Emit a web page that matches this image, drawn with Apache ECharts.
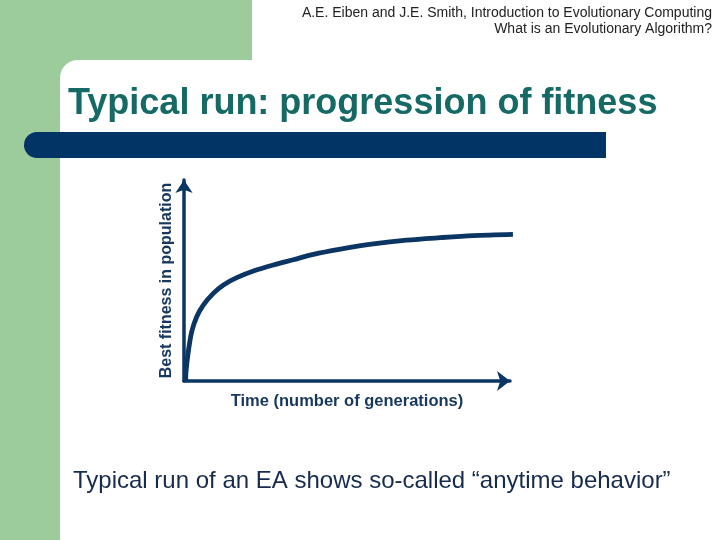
<!DOCTYPE html>
<html>
<head>
<meta charset="utf-8">
<script src="https://cdn.jsdelivr.net/npm/echarts@6/dist/echarts.min.js"></script>
<style>
html,body{margin:0;padding:0;background:#fff;}
#chart{width:720px;height:540px;}
</style>
</head>
<body>
<div id="chart"></div>
<script>
// Data (time in % of axis length, fitness in % of axis height)
const timeValues =    [0.52, 0.61, 1.32, 2.36, 3.90, 5.92, 8.99, 12.1, 16.2, 21.3, 27.4, 33.5, 39.7, 47.6, 58.1, 68.3, 78.5, 88.7, 100.9];
const fitnessValues = [0,    4.63, 14.6, 24.5, 32.0, 37.8, 43.6, 47.8, 51.4, 54.7, 57.7, 60.3, 63.0, 65.5, 68.2, 70.1, 71.3, 72.3, 72.9];
const titleText = 'Typical run: progression of fitness';
const headerLines = ['A.E. Eiben and J.E. Smith, Introduction to Evolutionary Computing', 'What is an Evolutionary Algorithm?'];
const xAxisName = 'Time (number of generations)';
const yAxisName = 'Best fitness in population';
const captionText = 'Typical run of an EA shows so-called \u201Canytime behavior\u201D';

const FONT = '"Liberation Sans", Arial, Helvetica, sans-serif';
const GREEN = '#9ccb9c';
const NAVY = '#0b3563';

const seriesData = timeValues.map((t, i) => [t, fitnessValues[i]]);

const chart = echarts.init(document.getElementById('chart'), null, {renderer: 'canvas'});
chart.setOption({
  backgroundColor: '#ffffff',
  animation: false,
  graphic: [
    {type: 'rect', z: -10, shape: {x: 0, y: 0, width: 252, height: 60}, style: {fill: GREEN}},
    {type: 'rect', z: -10, shape: {x: 0, y: 0, width: 60, height: 540}, style: {fill: GREEN}},
    {type: 'rect', z: -10, shape: {x: 0, y: 0, width: 90, height: 90}, style: {fill: GREEN}},
    {type: 'rect', z: -9, shape: {x: 60, y: 60, width: 660, height: 480, r: [18, 0, 0, 0]}, style: {fill: '#ffffff'}},
    {type: 'rect', z: -8, shape: {x: 24, y: 132, width: 582, height: 26, r: [13, 0, 0, 13]}, style: {fill: '#023466'}},
    {type: 'text', z: 5, x: 712, y: 13, style: {text: headerLines[0], font: '14px ' + FONT, fill: '#222222', align: 'right', verticalAlign: 'middle'}},
    {type: 'text', z: 5, x: 712, y: 29, style: {text: headerLines[1], font: '14px ' + FONT, fill: '#222222', align: 'right', verticalAlign: 'middle'}},
    {type: 'text', z: 5, x: 68, y: 104, style: {text: titleText, font: 'bold 36px ' + FONT, fill: '#166a66', align: 'left', verticalAlign: 'middle'}},
    {type: 'text', z: 5, x: 73, y: 481, style: {text: captionText, font: '24px ' + FONT, fill: '#172b4d', align: 'left', verticalAlign: 'middle'}}
  ],
  grid: {left: 184, right: 210, top: 180, bottom: 159, containLabel: false},
  xAxis: {
    type: 'value', min: 0, max: 100,
    name: xAxisName, nameLocation: 'middle', nameGap: 12,
    nameTextStyle: {fontFamily: FONT, fontWeight: 'bold', fontSize: 16.5, color: '#17375e', verticalAlign: 'top'},
    axisLine: {show: true, symbol: ['none', 'arrow'], symbolSize: [15, 13], lineStyle: {color: NAVY, width: 3.5}},
    axisTick: {show: false}, axisLabel: {show: false}, splitLine: {show: false}
  },
  yAxis: {
    type: 'value', min: 0, max: 100,
    name: yAxisName, nameLocation: 'middle', nameGap: 9, nameRotate: 90,
    nameTextStyle: {fontFamily: FONT, fontWeight: 'bold', fontSize: 16, color: '#17375e'},
    axisLine: {show: true, symbol: ['none', 'arrow'], symbolSize: [13, 13], lineStyle: {color: NAVY, width: 3.5}},
    axisTick: {show: false}, axisLabel: {show: false}, splitLine: {show: false}
  },
  series: [{
    type: 'line', data: seriesData, smooth: 0.3, showSymbol: false, clip: false,
    lineStyle: {color: NAVY, width: 4.8}
  }]
});
</script>
</body>
</html>
